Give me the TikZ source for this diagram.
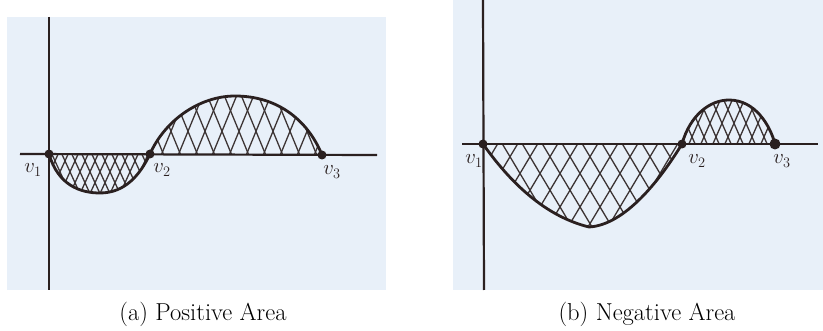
\documentclass[tikz,border=0pt]{standalone}
\usetikzlibrary{calc}
\definecolor{paper}{RGB}{232,240,249}
\definecolor{ink}{RGB}{42,32,32}
\definecolor{hatchink}{RGB}{60,52,52}
\tikzset{
  bgpanel/.style={fill=paper,draw=none},
  axisline/.style={draw=ink,line width=2.2pt},
  curveline/.style={draw=ink,line width=2.8pt,line cap=round},
  hatchline/.style={draw=hatchink,line width=1.3pt},
  rootdot/.style={circle,fill=ink,inner sep=0pt,minimum size=9pt},
  rootlabel/.style={font=\fontsize{20}{22}\selectfont,text=ink,inner sep=0pt},
  captiontext/.style={font=\fontsize{24.5}{28}\selectfont,inner sep=0pt}
}
\begin{document}
\begin{tikzpicture}[x=1pt,y=-1pt]
\useasboundingbox (0,0) rectangle (823,331);
% ---------- panel (a)
\fill[bgpanel] (7,17) rectangle (386,290);
\begin{scope}
  \clip (49,154) .. controls (58,185) and (80,193) .. (100,193) .. controls (125,193) and (140,175) .. (150,154) -- cycle;
  \foreach \x in {20,30,...,180} {
    \draw[hatchline] (\x,150) -- ++(22,48);
    \draw[hatchline] (\x,150) -- ++(-22,48);
  }
\end{scope}
\begin{scope}
  \clip (150,154) .. controls (165,120) and (200,96) .. (235,96) .. controls (282,96) and (310,125) .. (322,155) -- cycle;
  \foreach \x in {120,137,...,360} {
    \draw[hatchline] (\x,90) -- ++(28,68);
    \draw[hatchline] (\x,90) -- ++(-28,68);
  }
\end{scope}
\draw[axisline] (49,17) -- (49,290);
\draw[axisline] (20,154) -- (377,155);
\draw[curveline] (49,154) .. controls (58,185) and (80,193) .. (100,193) .. controls (125,193) and (140,175) .. (150,154);
\draw[curveline] (150,154) .. controls (165,120) and (200,96) .. (235,96) .. controls (282,96) and (310,125) .. (322,155);
\node[rootdot] (a1) at (49,154) {};
\node[rootdot] (a2) at (150,154) {};
\node[rootdot] (a3) at (322,155) {};
\node[rootlabel] (la1) at (33,170) {$v_1$};
\node[rootlabel] (la2) at (162,170) {$v_2$};
\node[rootlabel] (la3) at (332,172) {$v_3$};
\node[captiontext] (capa) at (203,314) {(a) Positive Area};
% ---------- panel (b)
\fill[bgpanel] (453,0) rectangle (823,290);
\begin{scope}
  \clip (483,144) .. controls (505,175) and (540,215) .. (589,227) .. controls (625,225) and (660,180) .. (682,144) -- cycle;
  \foreach \x in {420,440,...,760} {
    \draw[hatchline] (\x,140) -- ++(55,92);
    \draw[hatchline] (\x,140) -- ++(-55,92);
  }
\end{scope}
\begin{scope}
  \clip (682,144) .. controls (690,115) and (710,100) .. (729,100) .. controls (755,100) and (770,125) .. (775,144) -- cycle;
  \foreach \x in {650,662,...,800} {
    \draw[hatchline] (\x,96) -- ++(22,50);
    \draw[hatchline] (\x,96) -- ++(-22,50);
  }
\end{scope}
\draw[axisline] (483,0) -- (484,290);
\draw[axisline] (462,144) -- (818,144);
\draw[curveline] (483,144) .. controls (505,175) and (540,215) .. (589,227) .. controls (625,225) and (660,180) .. (682,144);
\draw[curveline] (682,144) .. controls (690,115) and (710,100) .. (729,100) .. controls (755,100) and (770,125) .. (775,144);
\node[rootdot] (b1) at (483,144) {};
\node[rootdot] (b2) at (682,144) {};
\node[rootdot,minimum size=11pt] (b3) at (775,144) {};
\node[rootlabel] (lb1) at (474,161) {$v_1$};
\node[rootlabel] (lb2) at (697,161) {$v_2$};
\node[rootlabel] (lb3) at (782,161) {$v_3$};
\node[captiontext] (capb) at (647,314) {(b) Negative Area};
\end{tikzpicture}
\end{document}
